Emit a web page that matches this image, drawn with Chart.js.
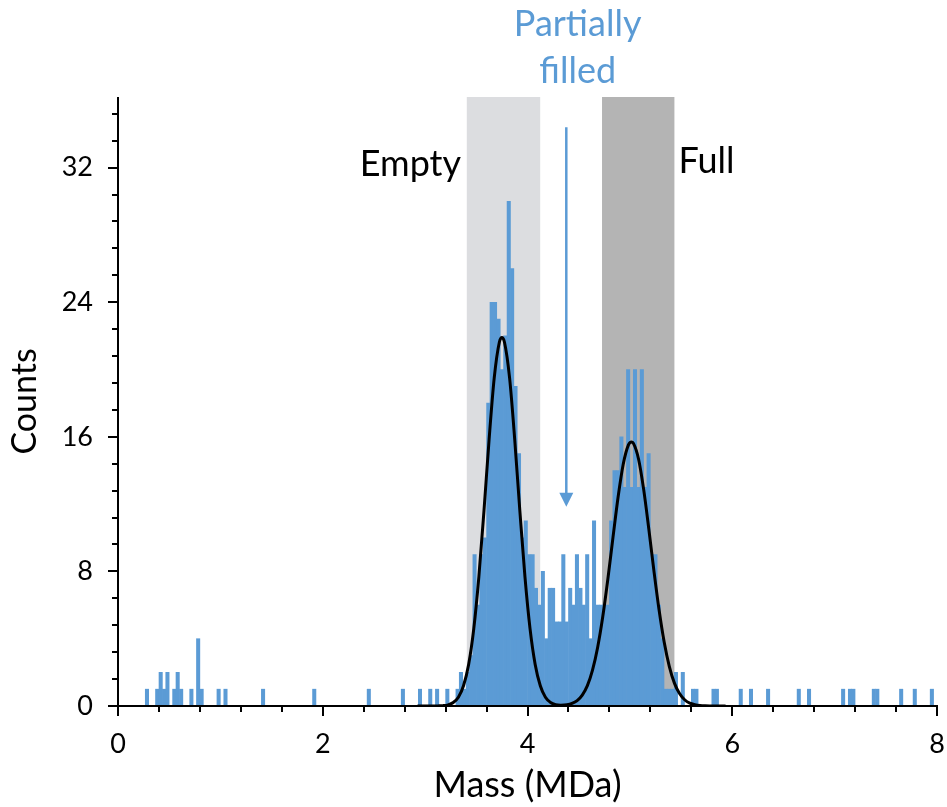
<!DOCTYPE html>
<html>
<head>
<meta charset="utf-8">
<script src="https://cdn.jsdelivr.net/npm/chart.js@4.4.0/dist/chart.umd.min.js"></script>
<style>
html,body{margin:0;padding:0;background:#ffffff;}
#wrap{width:947px;height:807px;position:relative;}
</style>
</head>
<body>
<div id="wrap"><canvas id="c" width="947" height="807"></canvas></div>
<script>
// ---- Data ----
// Histogram bin centres (MDa) and counts (non-empty bins only)
const binCenters = [
  0.283, 0.383, 0.417, 0.450, 0.483, 0.550, 0.583, 0.617, 0.717, 0.783, 0.817, 0.983, 1.050,
  1.417, 1.917, 2.450, 2.783, 2.950, 3.050, 3.117, 3.217, 3.317, 3.350, 3.383, 3.417, 3.450,
  3.483, 3.517, 3.550, 3.583, 3.617, 3.650, 3.683, 3.717, 3.750, 3.783, 3.817, 3.850, 3.883,
  3.917, 3.950, 3.983, 4.017, 4.050, 4.083, 4.117, 4.150, 4.183, 4.217, 4.250, 4.283, 4.317,
  4.350, 4.383, 4.417, 4.450, 4.483, 4.517, 4.550, 4.583, 4.617, 4.650, 4.683, 4.717, 4.750,
  4.783, 4.817, 4.850, 4.883, 4.917, 4.950, 4.983, 5.017, 5.050, 5.083, 5.117, 5.150, 5.183,
  5.217, 5.250, 5.283, 5.317, 5.350, 5.383, 5.417, 5.450, 5.517, 5.617, 5.650, 5.817, 5.850,
  6.083, 6.183, 6.350, 6.650, 6.750, 7.083, 7.150, 7.183, 7.383, 7.417, 7.650, 7.783, 7.950
];
const binCounts = [
  1, 1, 2, 1, 2, 1, 2, 1, 1, 4, 1, 1, 1,
  1, 1, 1, 1, 1, 1, 1, 1, 1, 2, 1, 2, 3,
  9, 6, 9, 10, 18, 24, 24, 23, 20, 22, 30, 26, 19,
  15, 10, 11, 9, 9, 7, 6, 8, 4, 7, 7, 5, 5,
  9, 5, 7, 6, 9, 7, 6, 9, 4, 11, 6, 6, 6,
  6, 11, 14, 14, 16, 13, 20, 13, 20, 13, 20, 13, 15,
  9, 9, 6, 4, 1, 1, 1, 2, 2, 1, 1, 1, 1,
  1, 1, 1, 1, 1, 1, 1, 1, 1, 1, 1, 1, 1
];
// Fitted curve (two Gaussian peaks)
const fitX = [
  2.925, 3.025, 3.075, 3.125, 3.175, 3.225, 3.275, 3.325, 3.375, 3.425, 3.475, 3.525, 3.575,
  3.625, 3.675, 3.725, 3.750, 3.775, 3.825, 3.875, 3.925, 3.975, 4.025, 4.075, 4.125, 4.175,
  4.225, 4.275, 4.325, 4.385, 4.435, 4.485, 4.535, 4.585, 4.635, 4.685, 4.735, 4.785, 4.835,
  4.885, 4.935, 4.985, 5.015, 5.035, 5.085, 5.135, 5.185, 5.235, 5.285, 5.335, 5.385, 5.435,
  5.485, 5.535, 5.585, 5.635, 5.685, 5.735, 5.835, 5.935
];
const fitY = [
  0, 0, 0.002, 0.007, 0.02, 0.07, 0.21, 0.52, 1.2, 2.47, 4.58, 7.69, 11.62,
  15.85, 19.5, 21.62, 21.9, 21.62, 19.5, 15.85, 11.62, 7.69, 4.58, 2.47, 1.2, 0.52,
  0.21, 0.08, 0.05, 0.07, 0.15, 0.32, 0.65, 1.21, 2.13, 3.48, 5.3, 7.55, 10.02,
  12.42, 14.37, 15.51, 15.7, 15.61, 14.67, 12.86, 10.52, 8.03, 5.72, 3.8, 2.36, 1.36,
  0.74, 0.37, 0.17, 0.08, 0.03, 0.01, 0, 0
];
const xTickLabels = [0, 2, 4, 6, 8];
const yTickLabels = [0, 8, 16, 24, 32];
const xMinorStep = 0.4;
const yMinorStep = 1.6;
const xRange = [0, 8];
const yRange = [0, 36.2];
// Shaded mass windows
const bandEmpty = [3.407, 4.124];
const bandFull = [4.728, 5.435];
// Arrow (mass, counts)
const arrowX = 4.379;
const arrowFrom = 34.4;
const arrowTo = 11.84;
// Annotation labels
const annotTexts = ['Empty', 'Full', 'Partially', 'filled'];
const annotX = [3.351, 5.475, 4.49, 4.49];
const annotY = [32.2, 32.4, 40.5, 37.7];

// ---- Styles ----
const FONT = 'Lato, "Open Sans", "DejaVu Sans", sans-serif';
const BLUE = '#5b9bd5';

const bandsPlugin = {
  id: 'bands',
  beforeDatasetsDraw(chart) {
    const {ctx, chartArea, scales: {x}} = chart;
    ctx.save();
    const drawBand = (b, color) => {
      const x0 = x.getPixelForValue(b[0]);
      const x1 = x.getPixelForValue(b[1]);
      ctx.fillStyle = color;
      ctx.fillRect(x0, chartArea.top, x1 - x0, chartArea.bottom - chartArea.top);
    };
    drawBand(bandEmpty, '#dcdde0');
    drawBand(bandFull, '#b4b4b4');
    ctx.restore();
  }
};

const axesPlugin = {
  id: 'axesAndNotes',
  afterDraw(chart) {
    const {ctx, chartArea: {left, right, top, bottom}, scales: {x, y}} = chart;
    ctx.save();
    ctx.strokeStyle = '#000';
    ctx.lineWidth = 2;
    ctx.lineCap = 'butt';
    // axis lines
    ctx.beginPath();
    ctx.moveTo(left, top);
    ctx.lineTo(left, bottom);
    ctx.lineTo(right + 1, bottom);
    ctx.stroke();
    // x ticks
    const nx = Math.round((xRange[1] - xRange[0]) / xMinorStep);
    for (let i = 0; i <= nx; i++) {
      const v = xRange[0] + i * xMinorStep;
      const major = xTickLabels.some(t => Math.abs(t - v) < 1e-6);
      const px = Math.round(x.getPixelForValue(v));
      ctx.beginPath();
      ctx.moveTo(px, bottom);
      ctx.lineTo(px, bottom + (major ? 10 : 6));
      ctx.stroke();
    }
    // y ticks
    const ny = Math.floor((yRange[1] - yRange[0]) / yMinorStep + 1e-6);
    for (let i = 0; i <= ny; i++) {
      const v = yRange[0] + i * yMinorStep;
      const major = yTickLabels.some(t => Math.abs(t - v) < 1e-6);
      const py = Math.round(y.getPixelForValue(v));
      ctx.beginPath();
      ctx.moveTo(left, py);
      ctx.lineTo(left - (major ? 10 : 6), py);
      ctx.stroke();
    }
    // arrow
    const ax = x.getPixelForValue(arrowX);
    const ay0 = y.getPixelForValue(arrowFrom);
    const ay1 = y.getPixelForValue(arrowTo);
    ctx.strokeStyle = BLUE;
    ctx.fillStyle = BLUE;
    ctx.lineWidth = 2.5;
    ctx.beginPath();
    ctx.moveTo(ax, ay0);
    ctx.lineTo(ax, ay1 - 12);
    ctx.stroke();
    ctx.beginPath();
    ctx.moveTo(ax - 7, ay1 - 14);
    ctx.lineTo(ax + 7, ay1 - 14);
    ctx.lineTo(ax, ay1);
    ctx.closePath();
    ctx.fill();
    // annotation texts
    ctx.textBaseline = 'middle';
    ctx.font = '36px ' + FONT;
    const aligns = ['right', 'left', 'center', 'center'];
    const colors = ['#000', '#000', BLUE, BLUE];
    for (let i = 0; i < annotTexts.length; i++) {
      ctx.textAlign = aligns[i];
      ctx.fillStyle = colors[i];
      ctx.fillText(annotTexts[i], x.getPixelForValue(annotX[i]), y.getPixelForValue(annotY[i]));
    }
    ctx.restore();
  }
};

const histData = binCenters.map((m, i) => ({x: m, y: binCounts[i]}));
const fitData = fitX.map((m, i) => ({x: m, y: fitY[i]}));

new Chart(document.getElementById('c'), {
  type: 'bar',
  data: {
    datasets: [
      {
        type: 'line',
        label: 'Fit',
        data: fitData,
        borderColor: '#000',
        borderWidth: 3,
        pointRadius: 0,
        fill: false,
        cubicInterpolationMode: 'monotone',
        order: 0
      },
      {
        type: 'bar',
        label: 'Counts',
        data: histData,
        backgroundColor: BLUE,
        borderWidth: 0,
        barPercentage: 1.0,
        categoryPercentage: 1.0,
        order: 1
      }
    ]
  },
  options: {
    responsive: false,
    devicePixelRatio: 1,
    animation: false,
    layout: {padding: {top: 97, right: 10, left: 0, bottom: 0}},
    plugins: {legend: {display: false}, tooltip: {enabled: false}},
    scales: {
      x: {
        type: 'linear',
        min: xRange[0],
        max: xRange[1],
        offset: false,
        grid: {display: false, drawTicks: true, tickLength: 22, offset: false},
        border: {display: false},
        ticks: {
          stepSize: 2,
          padding: 0,
          autoSkip: false,
          maxRotation: 0,
          color: '#000',
          font: {family: FONT, size: 27},
          callback: v => xTickLabels.includes(v) ? String(v) : ''
        },
        title: {
          display: true,
          text: 'Mass (MDa)',
          color: '#000',
          font: {family: FONT, size: 36},
          padding: {top: 0, bottom: 0}
        },
        afterFit: s => { s.height = 101; }
      },
      y: {
        type: 'linear',
        min: yRange[0],
        max: yRange[1],
        grid: {display: false, drawTicks: true, tickLength: 25},
        border: {display: false},
        ticks: {
          stepSize: 8,
          padding: 0,
          includeBounds: false,
          color: '#000',
          font: {family: FONT, size: 27},
          callback: v => yTickLabels.includes(v) ? String(v) : ''
        },
        title: {
          display: true,
          text: 'Counts',
          color: '#000',
          font: {family: FONT, size: 34},
          padding: {top: 5, bottom: 0}
        },
        afterFit: s => { s.width = 118; }
      }
    }
  },
  plugins: [bandsPlugin, axesPlugin]
});
</script>
</body>
</html>
